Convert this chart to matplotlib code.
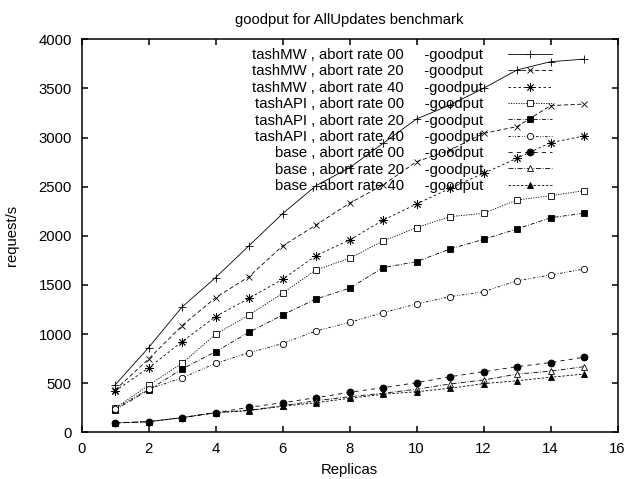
import matplotlib
matplotlib.use("Agg")
import matplotlib.pyplot as plt

plt.rcParams['font.family'] = ['Liberation Sans', 'DejaVu Sans']

replicas = list(range(1, 16))

tashMW_00 = [481, 861, 1275, 1574, 1899, 2225, 2510, 2693, 2941, 3189, 3331, 3501, 3688, 3772, 3798]
tashMW_20 = [430, 745, 1085, 1370, 1584, 1896, 2110, 2331, 2517, 2754, 2873, 3043, 3111, 3325, 3341]
tashMW_40 = [420, 655, 922, 1177, 1364, 1557, 1798, 1957, 2158, 2324, 2483, 2636, 2789, 2948, 3016]
tashAPI_00 = [244, 478, 702, 997, 1194, 1415, 1652, 1771, 1947, 2083, 2195, 2229, 2364, 2408, 2459]
tashAPI_20 = [227, 430, 644, 820, 1018, 1194, 1357, 1466, 1675, 1737, 1866, 1964, 2069, 2184, 2229]
tashAPI_40 = [240, 440, 552, 702, 810, 903, 1031, 1119, 1218, 1306, 1380, 1431, 1543, 1601, 1662]
base_00 = [95, 108, 149, 200, 254, 301, 352, 407, 454, 505, 566, 617, 668, 710, 764]
base_20 = [95, 108, 149, 200, 225, 270, 322, 362, 397, 438, 492, 532, 592, 622, 668]
base_40 = [95, 108, 149, 200, 220, 265, 301, 346, 387, 413, 448, 495, 525, 560, 593]

labels = [
    "tashMW , abort rate 00",
    "tashMW , abort rate 20",
    "tashMW , abort rate 40",
    "tashAPI , abort rate 00",
    "tashAPI , abort rate 20",
    "tashAPI , abort rate 40",
    "base , abort rate 00",
    "base , abort rate 20",
    "base , abort rate 40",
]
suffix = "-goodput"
series = [tashMW_00, tashMW_20, tashMW_40, tashAPI_00, tashAPI_20, tashAPI_40,
          base_00, base_20, base_40]

styles = [
    dict(ls='-', marker='+', ms=6, mfc='black'),
    dict(ls=(0, (5, 3)), marker='x', ms=4.5, mfc='black'),
    dict(ls=(0, (3, 3)), marker=(8, 2, 0), ms=6, mfc='black'),
    dict(ls=(0, (1.5, 1.5)), marker='s', ms=4.3, mfc='white'),
    dict(ls=(0, (5, 2, 1, 2)), marker='s', ms=5, mfc='black'),
    dict(ls=(0, (3, 2, 1, 2, 1, 2)), marker='o', ms=4.5, mfc='white'),
    dict(ls=(0, (5, 5)), marker='o', ms=5, mfc='black'),
    dict(ls=(0, (6, 2, 1, 2)), marker='^', ms=4.5, mfc='white'),
    dict(ls=(0, (3, 2)), marker='^', ms=4.5, mfc='black'),
]

FS = 10.7

fig = plt.figure(figsize=(6.27, 4.79), dpi=100)
ax = fig.add_axes([81.5 / 627, 1 - 432.3 / 479, 536 / 627, 393 / 479])

for lab, ys, st in zip(labels, series, styles):
    ax.plot(replicas, ys, color='black', lw=0.6, mec='black', mew=0.6,
            label=lab + "     " + suffix, **st)

ax.set_xlim(0, 16)
ax.set_ylim(0, 4000)
ax.set_xticks(range(0, 17, 2))
ax.set_yticks(range(0, 4001, 500))
ax.tick_params(direction='in', length=4.5, width=1.1, top=True, right=True,
               labelsize=FS, pad=7)
for s in ax.spines.values():
    s.set_linewidth(1.1)

ax.set_title("goodput for AllUpdates benchmark", fontsize=FS, pad=11)
ax.set_xlabel("Replicas", fontsize=FS, labelpad=5)
ax.set_ylabel("request/s", fontsize=FS, labelpad=14)

leg = ax.legend(loc='upper right', bbox_to_anchor=(552 / 627, 1 - 48 / 479),
                bbox_transform=fig.transFigure, frameon=False, markerfirst=False,
                fontsize=FS, handlelength=2.95, handletextpad=1.68,
                labelspacing=0.16, borderpad=0, borderaxespad=0)

fig.savefig("out.png", dpi=100)
